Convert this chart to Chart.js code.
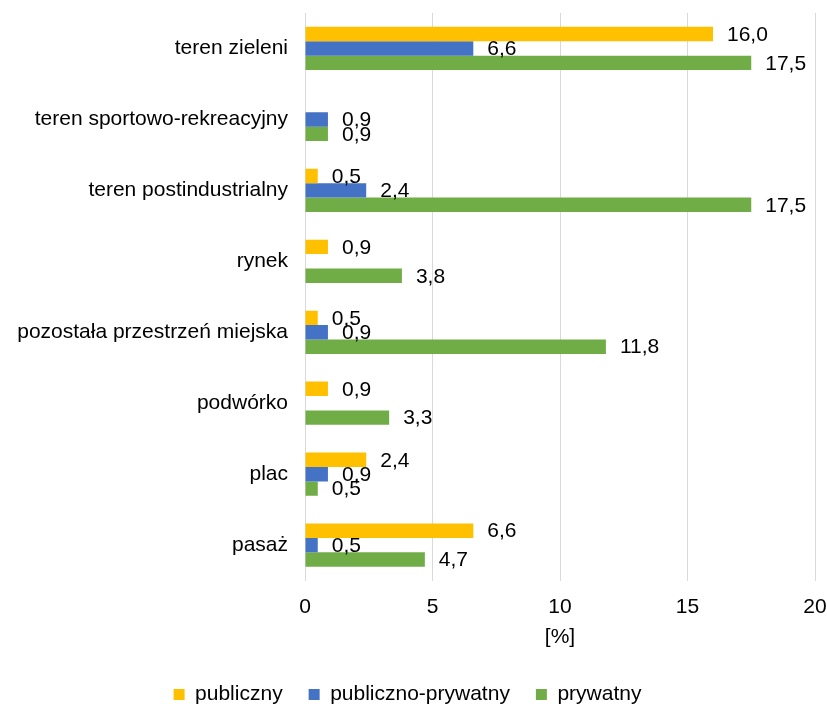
<!DOCTYPE html>
<html>
<head>
<meta charset="utf-8">
<script src="https://cdn.jsdelivr.net/npm/chart.js@4"></script>
<style>
  html, body { margin: 0; padding: 0; background: #fff; }
  #wrap { width: 827px; height: 707px; }
</style>
</head>
<body>
<div id="wrap"><canvas id="chart" width="827" height="707"></canvas></div>
<script>
// categories, top to bottom
const categories = [
  'teren zieleni',
  'teren sportowo-rekreacyjny',
  'teren postindustrialny',
  'rynek',
  'pozostała przestrzeń miejska',
  'podwórko',
  'plac',
  'pasaż'
];
const publiczny = [16.0, null, 0.5, 0.9, 0.5, 0.9, 2.4, 6.6];
const publicznoPrywatny = [6.6, 0.9, 2.4, null, 0.9, null, 0.9, 0.5];
const prywatny = [17.5, 0.9, 17.5, 3.8, 11.8, 3.3, 0.5, 4.7];
const xTicks = [0, 5, 10, 15, 20];

const FONT = 'Liberation Sans, Arial, sans-serif';
const FS = 21;

// value labels right of each bar, with comma decimals
const valueLabels = {
  id: 'valueLabels',
  afterDatasetsDraw(chart) {
    const ctx = chart.ctx;
    ctx.save();
    ctx.font = FS + 'px ' + FONT;
    ctx.fillStyle = '#000';
    ctx.textAlign = 'left';
    ctx.textBaseline = 'middle';
    chart.data.datasets.forEach((ds, i) => {
      const meta = chart.getDatasetMeta(i);
      meta.data.forEach((bar, j) => {
        const v = ds.data[j];
        if (v === null || v === undefined) return;
        ctx.fillText(v.toFixed(1).replace('.', ','), bar.x + 14, bar.y + 1);
      });
    });
    ctx.restore();
  }
};

new Chart(document.getElementById('chart'), {
  type: 'bar',
  data: {
    labels: categories,
    datasets: [
      { label: 'publiczny', data: publiczny, backgroundColor: '#FFC000' },
      { label: 'publiczno-prywatny', data: publicznoPrywatny, backgroundColor: '#4472C4' },
      { label: 'prywatny', data: prywatny, backgroundColor: '#70AD47' }
    ]
  },
  options: {
    indexAxis: 'y',
    responsive: false,
    animation: false,
    devicePixelRatio: 1,
    layout: { padding: { top: 13, right: 12, left: 0, bottom: -8 } },
    datasets: {
      bar: { categoryPercentage: 0.61, barPercentage: 1.0, borderWidth: 0 }
    },
    scales: {
      x: {
        min: 0,
        max: 20,
        afterBuildTicks: (scale) => { scale.ticks = xTicks.map(v => ({ value: v })); },
        afterFit: (scale) => { scale.paddingLeft = 0; scale.paddingRight = 0; },
        grid: { color: '#d9d9d9', lineWidth: 1, drawTicks: false },
        border: { display: false },
        ticks: { color: '#000', font: { family: FONT, size: FS }, padding: 14 },
        title: { display: true, text: '[%]', color: '#000', font: { family: FONT, size: FS }, padding: { top: -9, bottom: 8 } }
      },
      y: {
        grid: { display: false, drawTicks: false },
        border: { display: false },
        ticks: { color: '#000', font: { family: FONT, size: FS }, padding: 17 },
        afterFit: (scale) => { scale.width = 305; scale.paddingTop = 0; scale.paddingBottom = 0; }
      }
    },
    plugins: {
      legend: {
        position: 'bottom',
        labels: {
          color: '#000',
          font: { family: FONT, size: FS },
          boxWidth: 11,
          boxHeight: 11,
          padding: 26
        }
      },
      tooltip: { enabled: false }
    }
  },
  plugins: [valueLabels]
});
</script>
</body>
</html>
